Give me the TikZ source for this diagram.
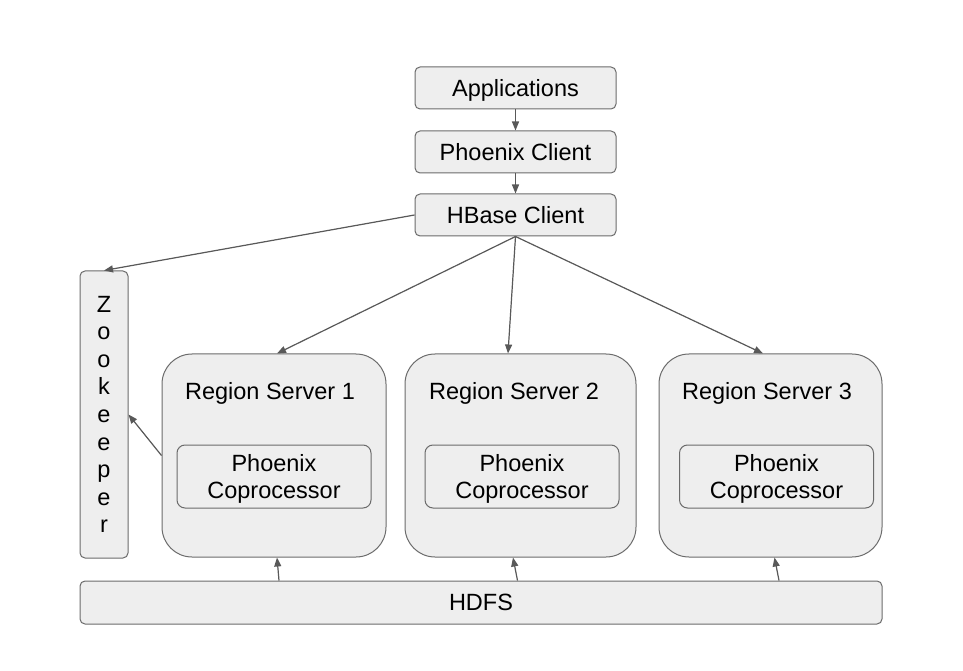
\documentclass[tikz,border=0pt]{standalone}
\usepackage{fontspec}
\setmainfont{Liberation Sans}
\usepackage{xcolor}
\usepackage{tikz}
\usetikzlibrary{positioning,arrows.meta,calc}
\definecolor{boxfill}{HTML}{EEEEEE}
\definecolor{boxline}{HTML}{6B6B6B}
\definecolor{arrcol}{HTML}{595959}

\begin{document}
\begin{tikzpicture}[
  x=1pt, y=1pt,
  font=\fontsize{23.5}{27}\selectfont,
  box/.style={draw=boxline, line width=1pt, fill=boxfill, rounded corners=5pt, inner sep=0pt, text depth=0pt, minimum width=201pt, minimum height=42pt, align=center},
  server/.style={box, rounded corners=30pt, minimum height=203pt},
  cop/.style={box, rounded corners=8pt, minimum width=194pt, minimum height=63pt},
  title/.style={anchor=center, yshift=-40pt},
  arr/.style={-{Triangle[length=9pt, width=7pt]}, draw=arrcol, fill=arrcol, line width=1.2pt},
  ]
  \useasboundingbox (0,0) rectangle (963,670);

  \node[box] (app) at (515.5,582) {Applications};
  \node[box, below=21pt of app] (pclient) {Phoenix Client};
  \node[box, below=20pt of pclient] (hbase) {HBase Client};
  \draw[arr] (app) -- (pclient);
  \draw[arr] (pclient) -- (hbase);

  \node[box, minimum width=48pt, minimum height=287pt, font=\fontsize{23.5}{27.6}\selectfont] (zk) at (104,255.5) {Z\\o\\o\\k\\e\\e\\p\\e\\r};

  \node[server, minimum width=224pt, label={[title, xshift=-4pt]north:Region Server 1}] (rs1) at (274,214.5) {};
  \node[server, minimum width=231pt, label={[title, xshift=-6.5pt]north:Region Server 2}] (rs2) at (520.5,214.5) {};
  \node[server, minimum width=223pt, label={[title, xshift=-3.5pt]north:Region Server 3}] (rs3) at (770.5,214.5) {};

  \node[cop] (pc1) at (274,193.5) {Phoenix\\Coprocessor};
  \node[cop] (pc2) at (522,193.5) {Phoenix\\Coprocessor};
  \node[cop] (pc3) at (776.5,193.5) {Phoenix\\Coprocessor};

  \node[box, minimum width=802pt, minimum height=43pt] (hdfs) at (481,67.5) {HDFS};

  \draw[arr] (hbase.west) -- (zk.north);
  \draw[arr] (hbase.south) -- ($(rs1.north)+(3,0)$);
  \draw[arr] (hbase.south) -- ($(rs2.north)+(-12.5,0)$);
  \draw[arr] (hbase.south) -- ($(rs3.north)+(-7.5,0)$);
  \draw[arr] (rs1.west) -- (zk.east);

  \draw[arr] ($(rs1.south |- hdfs.north)+(5,0)$) -- ($(rs1.south)+(3,0)$);
  \draw[arr] ($(rs2.south |- hdfs.north)+(-3,0)$) -- ($(rs2.south)+(-7.5,0)$);
  \draw[arr] ($(rs3.south |- hdfs.north)+(8.5,0)$) -- ($(rs3.south)+(4,0)$);
\end{tikzpicture}
\end{document}
